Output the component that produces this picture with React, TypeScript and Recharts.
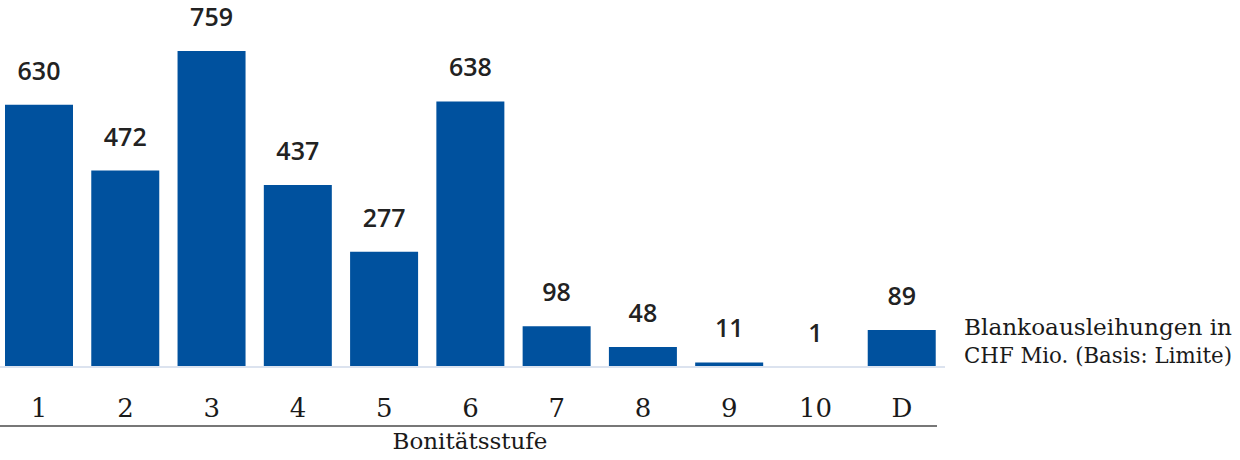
import { BarChart, Bar, XAxis, YAxis, LabelList } from 'recharts';

const categories = ['1', '2', '3', '4', '5', '6', '7', '8', '9', '10', 'D'];
const volumes = [630, 472, 759, 437, 277, 638, 98, 48, 11, 1, 89];
const legendLines = ['Blankoausleihungen in', 'CHF Mio. (Basis: Limite)'];
const axisTitle = 'Bonitätsstufe';

const data = categories.map((c, i) => ({ stufe: c, value: volumes[i] }));

const serif = '"DejaVu Serif", serif';
const sans = '"Open Sans", sans-serif';

const Tick = ({ x, y, payload }: any) => (
  <text x={x} y={y + 42} textAnchor="middle" fontFamily={serif} fontSize={26} fill="#1a1a1a">
    {payload.value}
  </text>
);

// rule under the tick labels, axis title and the series note on the right
const AxisDecor = ({ viewBox }: any) => {
  const { x, y } = viewBox;
  return (
    <g>
      <line x1={x + 4} x2={x + 941} y1={y + 59} y2={y + 59} stroke="#777" strokeWidth={2} />
      <text x={x + 474} y={y + 82} textAnchor="middle" fontFamily={serif} fontSize={23} fill="#1a1a1a">
        {axisTitle}
      </text>
      {legendLines.map((l, i) => (
        <text
          key={l}
          x={x + 968}
          y={y - 32 + i * 28}
          fontFamily={serif}
          fontSize={22}
          textLength={268}
          lengthAdjust="spacingAndGlyphs"
          fill="#1a1a1a"
        >
          {l}
        </text>
      ))}
    </g>
  );
};

export default function App() {
  return (
    <div style={{ position: 'absolute', left: -4, top: 0 }}>
      <BarChart width={1244} height={460} data={data} margin={{ top: 34, right: 295, left: 0, bottom: 0 }}>
        <XAxis
          dataKey="stufe"
          height={93}
          axisLine={{ stroke: '#dce3ef', strokeWidth: 2 }}
          tickLine={false}
          tick={<Tick />}
          interval={0}
          label={<AxisDecor />}
        />
        <YAxis hide domain={[0, 800]} />
        <Bar dataKey="value" fill="#00519e" barSize={68} isAnimationActive={false}>
          <LabelList
            dataKey="value"
            position="top"
            offset={25}
            style={{ fontFamily: sans, fontSize: 25, fontWeight: 600, fill: '#222' }}
          />
        </Bar>
      </BarChart>
    </div>
  );
}
